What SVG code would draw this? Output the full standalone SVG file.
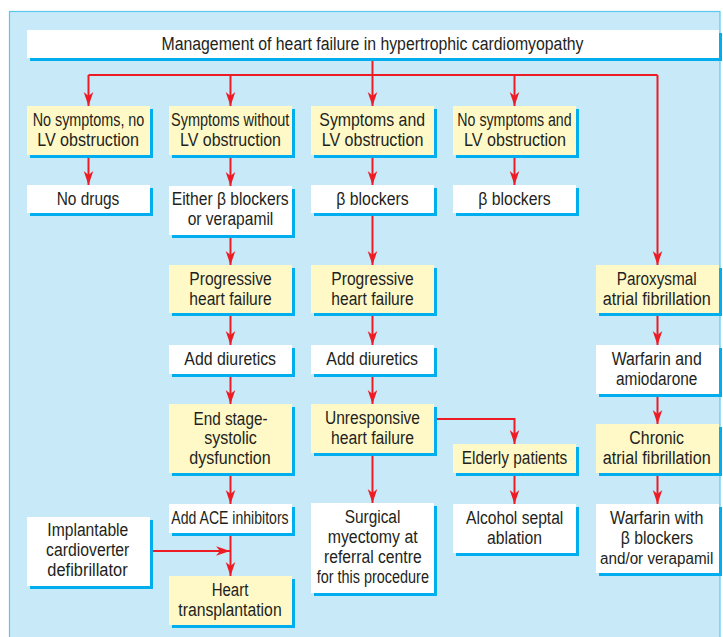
<svg xmlns="http://www.w3.org/2000/svg" width="723" height="637" viewBox="0 0 723 637">
<style>
.panel{fill:#c8e9f8;stroke:#5cc6f0;stroke-width:1.2}
.sh{fill:#00aeef}
.w{fill:#ffffff}
.y{fill:#fff9c8}
.t{font-family:"Liberation Sans",Arial,sans-serif;font-size:18px;fill:#231f20;text-anchor:middle}
.s{font-size:16px}
.c{fill:none;stroke:#ed1c24;stroke-width:2}
.a{marker-end:url(#ah)}
</style>
<defs>
<marker id="ah" markerUnits="userSpaceOnUse" markerWidth="16" markerHeight="12" viewBox="-15 -6 16 12" refX="0" refY="0" orient="auto">
<path d="M0,0 L-14,-4.8 L-10,0 L-14,4.8 Z" fill="#ed1c24"/>
</marker>
</defs>
<rect width="723" height="637" fill="#ffffff"/>
<rect class="panel" x="9.5" y="11.5" width="710.5" height="640"/>

<g id="connectors">
<path class="c" d="M88.5,75 H657.5"/>
<path class="c a" d="M372.5,58 V106"/>
<path class="c a" d="M88.5,75 V106"/>
<path class="c a" d="M230.5,75 V106"/>
<path class="c a" d="M514.5,75 V106"/>
<path class="c a" d="M657.5,75 V265"/>
<path class="c a" d="M88.5,155 V185"/>
<path class="c a" d="M230.5,155 V186"/>
<path class="c a" d="M230.5,235 V265"/>
<path class="c a" d="M230.5,313 V345"/>
<path class="c a" d="M230.5,374 V404"/>
<path class="c a" d="M230.5,473 V504"/>
<path class="c a" d="M230.5,533 V576"/>
<path class="c a" d="M150,551 H230"/>
<path class="c a" d="M372.5,155 V185"/>
<path class="c a" d="M372.5,213 V265"/>
<path class="c a" d="M372.5,313 V345"/>
<path class="c a" d="M372.5,374 V404"/>
<path class="c a" d="M372.5,453 V503"/>
<path class="c a" d="M434,419 H514.5 V444"/>
<path class="c a" d="M514.5,155 V185"/>
<path class="c a" d="M514.5,473 V504"/>
<path class="c a" d="M657.5,313 V345"/>
<path class="c a" d="M657.5,394 V424"/>
<path class="c a" d="M657.5,473 V504"/>
</g>

<g id="title">
<rect class="sh" x="30" y="33" width="692" height="28"/>
<rect class="w" x="27" y="30" width="692" height="28"/>
<text class="t" x="372.5" y="49.5" textLength="422" lengthAdjust="spacingAndGlyphs">Management of heart failure in hypertrophic cardiomyopathy</text>
</g>

<g id="n1">
<rect class="sh" x="30" y="109" width="123" height="49"/>
<rect class="y" x="27" y="106" width="123" height="49"/>
<text class="t" x="88.5" y="126" textLength="111.7" lengthAdjust="spacingAndGlyphs">No symptoms, no</text>
<text class="t" x="88" y="146" textLength="101.7" lengthAdjust="spacingAndGlyphs">LV obstruction</text>
</g>
<g id="n2">
<rect class="sh" x="172" y="109" width="123" height="49"/>
<rect class="y" x="169" y="106" width="123" height="49"/>
<text class="t" x="230.2" y="126" textLength="118.3" lengthAdjust="spacingAndGlyphs">Symptoms without</text>
<text class="t" x="230.5" y="146" textLength="101" lengthAdjust="spacingAndGlyphs">LV obstruction</text>
</g>
<g id="n3">
<rect class="sh" x="314" y="109" width="123" height="49"/>
<rect class="y" x="311" y="106" width="123" height="49"/>
<text class="t" x="372.2" y="126" textLength="105.7" lengthAdjust="spacingAndGlyphs">Symptoms and</text>
<text class="t" x="372.5" y="146" textLength="101.7" lengthAdjust="spacingAndGlyphs">LV obstruction</text>
</g>
<g id="n4">
<rect class="sh" x="456" y="109" width="123" height="49"/>
<rect class="y" x="453" y="106" width="123" height="49"/>
<text class="t" x="514.5" y="126" textLength="114.3" lengthAdjust="spacingAndGlyphs">No symptoms and</text>
<text class="t" x="515" y="146" textLength="102" lengthAdjust="spacingAndGlyphs">LV obstruction</text>
</g>

<g id="n5">
<rect class="sh" x="30" y="188" width="123" height="28"/>
<rect class="w" x="27" y="185" width="123" height="28"/>
<text class="t" x="88" y="205" textLength="62.7" lengthAdjust="spacingAndGlyphs">No drugs</text>
</g>
<g id="n6">
<rect class="sh" x="172" y="189" width="123" height="49"/>
<rect class="w" x="169" y="186" width="123" height="49"/>
<text class="t" x="230.2" y="205" textLength="117" lengthAdjust="spacingAndGlyphs">Either β blockers</text>
<text class="t" x="230.5" y="225" textLength="85.7" lengthAdjust="spacingAndGlyphs">or verapamil</text>
</g>
<g id="n7">
<rect class="sh" x="314" y="188" width="123" height="28"/>
<rect class="w" x="311" y="185" width="123" height="28"/>
<text class="t" x="372.5" y="205" textLength="72.3" lengthAdjust="spacingAndGlyphs">β blockers</text>
</g>
<g id="n8">
<rect class="sh" x="456" y="188" width="123" height="28"/>
<rect class="w" x="453" y="185" width="123" height="28"/>
<text class="t" x="514.5" y="205" textLength="72.3" lengthAdjust="spacingAndGlyphs">β blockers</text>
</g>

<g id="n9">
<rect class="sh" x="172" y="268" width="123" height="48"/>
<rect class="y" x="169" y="265" width="123" height="48"/>
<text class="t" x="230.5" y="285" textLength="82.3" lengthAdjust="spacingAndGlyphs">Progressive</text>
<text class="t" x="230.5" y="305" textLength="82.3" lengthAdjust="spacingAndGlyphs">heart failure</text>
</g>
<g id="n10">
<rect class="sh" x="314" y="268" width="123" height="48"/>
<rect class="y" x="311" y="265" width="123" height="48"/>
<text class="t" x="372.5" y="285" textLength="82.3" lengthAdjust="spacingAndGlyphs">Progressive</text>
<text class="t" x="372.5" y="305" textLength="82.3" lengthAdjust="spacingAndGlyphs">heart failure</text>
</g>
<g id="n11">
<rect class="sh" x="599" y="268" width="123" height="48"/>
<rect class="y" x="596" y="265" width="123" height="48"/>
<text class="t" x="656.7" y="285" textLength="80" lengthAdjust="spacingAndGlyphs">Paroxysmal</text>
<text class="t" x="656.7" y="305" textLength="108" lengthAdjust="spacingAndGlyphs">atrial fibrillation</text>
</g>

<g id="n12">
<rect class="sh" x="172" y="348" width="123" height="29"/>
<rect class="w" x="169" y="345" width="123" height="29"/>
<text class="t" x="230.2" y="365" textLength="91.7" lengthAdjust="spacingAndGlyphs">Add diuretics</text>
</g>
<g id="n13">
<rect class="sh" x="314" y="348" width="123" height="29"/>
<rect class="w" x="311" y="345" width="123" height="29"/>
<text class="t" x="372.2" y="365" textLength="91.7" lengthAdjust="spacingAndGlyphs">Add diuretics</text>
</g>
<g id="n14">
<rect class="sh" x="599" y="348" width="123" height="49"/>
<rect class="w" x="596" y="345" width="123" height="49"/>
<text class="t" x="656.7" y="365" textLength="90" lengthAdjust="spacingAndGlyphs">Warfarin and</text>
<text class="t" x="656.7" y="385" textLength="81.3" lengthAdjust="spacingAndGlyphs">amiodarone</text>
</g>

<g id="n15">
<rect class="sh" x="172" y="407" width="123" height="69"/>
<rect class="y" x="169" y="404" width="123" height="69"/>
<text class="t" x="230.5" y="424.5" textLength="74" lengthAdjust="spacingAndGlyphs">End stage-</text>
<text class="t" x="230.5" y="444" textLength="52.7" lengthAdjust="spacingAndGlyphs">systolic</text>
<text class="t" x="230" y="463.5" textLength="81.3" lengthAdjust="spacingAndGlyphs">dysfunction</text>
</g>
<g id="n16">
<rect class="sh" x="314" y="407" width="123" height="49"/>
<rect class="y" x="311" y="404" width="123" height="49"/>
<text class="t" x="372.5" y="424" textLength="95" lengthAdjust="spacingAndGlyphs">Unresponsive</text>
<text class="t" x="372.5" y="444" textLength="83" lengthAdjust="spacingAndGlyphs">heart failure</text>
</g>
<g id="n17">
<rect class="sh" x="456" y="447" width="123" height="29"/>
<rect class="y" x="453" y="444" width="123" height="29"/>
<text class="t" x="514.5" y="464" textLength="105.7" lengthAdjust="spacingAndGlyphs">Elderly patients</text>
</g>
<g id="n18">
<rect class="sh" x="599" y="427" width="123" height="49"/>
<rect class="y" x="596" y="424" width="123" height="49"/>
<text class="t" x="656.7" y="444" textLength="54.7" lengthAdjust="spacingAndGlyphs">Chronic</text>
<text class="t" x="656.7" y="464" textLength="108" lengthAdjust="spacingAndGlyphs">atrial fibrillation</text>
</g>

<g id="n19">
<rect class="sh" x="172" y="507" width="123" height="29"/>
<rect class="w" x="169" y="504" width="123" height="29"/>
<text class="t" x="230" y="524" textLength="117.3" lengthAdjust="spacingAndGlyphs">Add ACE inhibitors</text>
</g>
<g id="n20">
<rect class="sh" x="30" y="520" width="123" height="69"/>
<rect class="w" x="27" y="517" width="123" height="69"/>
<text class="t" x="87.8" y="536" textLength="81" lengthAdjust="spacingAndGlyphs">Implantable</text>
<text class="t" x="87.7" y="556" textLength="83.3" lengthAdjust="spacingAndGlyphs">cardioverter</text>
<text class="t" x="87.5" y="576" textLength="80.3" lengthAdjust="spacingAndGlyphs">defibrillator</text>
</g>
<g id="n21">
<rect class="sh" x="172" y="579" width="123" height="49"/>
<rect class="y" x="169" y="576" width="123" height="49"/>
<text class="t" x="230" y="596" textLength="36.7" lengthAdjust="spacingAndGlyphs">Heart</text>
<text class="t" x="230" y="616" textLength="103.3" lengthAdjust="spacingAndGlyphs">transplantation</text>
</g>
<g id="n22">
<rect class="sh" x="314" y="506" width="123" height="90"/>
<rect class="w" x="311" y="503" width="123" height="90"/>
<text class="t" x="372.5" y="523" textLength="55.7" lengthAdjust="spacingAndGlyphs">Surgical</text>
<text class="t" x="372.7" y="543" textLength="90" lengthAdjust="spacingAndGlyphs">myectomy at</text>
<text class="t" x="372.8" y="563" textLength="97.7" lengthAdjust="spacingAndGlyphs">referral centre</text>
<text class="t" x="372.8" y="583" textLength="112.3" lengthAdjust="spacingAndGlyphs">for this procedure</text>
</g>
<g id="n23">
<rect class="sh" x="456" y="507" width="123" height="49"/>
<rect class="w" x="453" y="504" width="123" height="49"/>
<text class="t" x="514.7" y="524" textLength="97.3" lengthAdjust="spacingAndGlyphs">Alcohol septal</text>
<text class="t" x="514.5" y="544" textLength="55" lengthAdjust="spacingAndGlyphs">ablation</text>
</g>
<g id="n24">
<rect class="sh" x="599" y="507" width="123" height="69"/>
<rect class="w" x="596" y="504" width="123" height="69"/>
<text class="t" x="656.7" y="524" textLength="93.3" lengthAdjust="spacingAndGlyphs">Warfarin with</text>
<text class="t" x="657" y="544" textLength="72.3" lengthAdjust="spacingAndGlyphs">β blockers</text>
<text class="t s" x="656.7" y="564" textLength="113.3" lengthAdjust="spacingAndGlyphs">and/or verapamil</text>
</g>
</svg>
